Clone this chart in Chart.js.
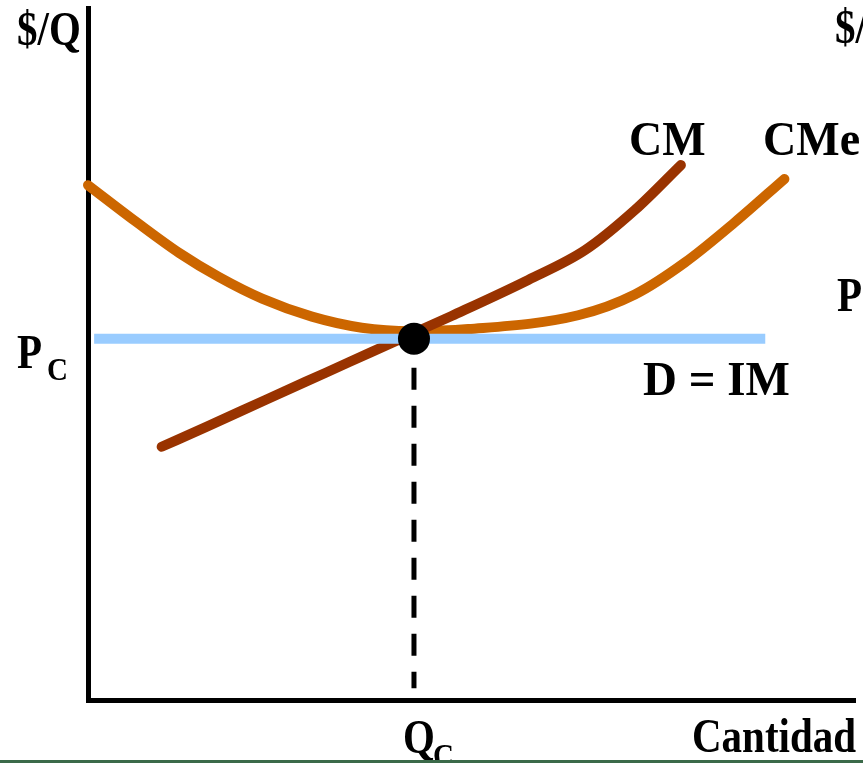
<!DOCTYPE html>
<html lang="es">
<head>
  <meta charset="utf-8" />
  <title>Competencia perfecta: CM, CMe y D = IM</title>
  <script src="https://cdn.jsdelivr.net/npm/chart.js"></script>
  <style>
    body {
      margin: 0;
      background: #ffffff;
    }
    #wrap {
      width: 863px;
      height: 763px;
    }
  </style>
</head>
<body>
  <div id="wrap">
    <canvas id="chart" width="863" height="763"></canvas>
  </div>

  <script>
    // Curva de costo marginal (CM)
    const cmQ = [9.6, 15.5, 23.2, 31.0, 37.0, 41.4, 47.4, 57.4, 64.8, 71.3, 77.3];
    const cmP = [36.6, 39.5, 43.4, 47.3, 50.3, 52.5, 55.5, 60.7, 65.0, 70.8, 77.3];

    // Curva de costo medio (CMe)
    const cmeQ = [0, 6.4, 11.9, 17.1, 22.7, 29.2, 35.7, 42.2, 49.6, 63.9, 71.3, 77.8, 84.3, 90.8];
    const cmeP = [74.4, 69.0, 64.6, 61.1, 58.0, 55.4, 53.8, 53.3, 53.6, 55.6, 58.6, 63.2, 69.0, 75.3];

    // Demanda = ingreso marginal (precio constante)
    const precioC = 52.2;
    const demandaQ = [0.8, 88.3];

    // Equilibrio
    const cantidadC = 42.5;
    const guiaP = [48, 1.7];

    const pts = (xs, ys) => xs.map((x, i) => ({ x: x, y: ys[i] }));

    const serif = "'Liberation Serif', 'Times New Roman', serif";

    // texto en negrita, algo estirado en vertical como en la lámina original
    function texto(ctx, txt, x, y, size, sy) {
      ctx.save();
      ctx.translate(x, y);
      ctx.scale(1, sy);
      ctx.font = 'bold ' + size + 'px ' + serif;
      ctx.fillStyle = '#000000';
      ctx.textBaseline = 'alphabetic';
      ctx.fillText(txt, 0, 0);
      ctx.restore();
    }

    const etiquetas = {
      id: 'etiquetas',
      afterDraw(chart) {
        const ctx = chart.ctx;
        texto(ctx, '$/Q', 17, 45, 41, 1.17);
        texto(ctx, '$/', 835, 43, 41, 1.17);
        texto(ctx, 'CM', 629, 155, 46, 1.05);
        texto(ctx, 'CMe', 763, 155, 46, 1.05);
        texto(ctx, 'P', 837, 311, 41, 1.17);
        texto(ctx, 'P', 17, 368, 41, 1.17);
        texto(ctx, 'C', 47, 380, 29, 1.1);
        texto(ctx, 'D = IM', 643, 395, 47, 1.03);
        texto(ctx, 'Q', 403, 753, 41, 1.17);
        texto(ctx, 'C', 433, 766, 29, 1.1);
        texto(ctx, 'Cantidad', 692, 752, 41, 1.17);

        // franja verde inferior de la lámina
        ctx.save();
        ctx.fillStyle = '#3b6a49';
        ctx.fillRect(0, 760, chart.width, 3);
        ctx.restore();
      }
    };

    const ctx = document.getElementById('chart').getContext('2d');

    new Chart(ctx, {
      type: 'line',
      data: {
        datasets: [
          {
            label: 'Equilibrio',
            data: [{ x: cantidadC, y: precioC }],
            showLine: false,
            pointRadius: 16,
            pointBackgroundColor: '#000000',
            pointBorderWidth: 0,
            clip: false
          },
          {
            label: 'Qc',
            data: pts([cantidadC, cantidadC], guiaP),
            borderColor: '#000000',
            borderWidth: 5,
            borderDash: [22, 16],
            borderCapStyle: 'butt',
            pointRadius: 0,
            clip: false
          },
          {
            label: 'D = IM',
            data: pts(demandaQ, [precioC, precioC]),
            borderColor: '#99ccff',
            borderWidth: 10,
            borderCapStyle: 'butt',
            pointRadius: 0,
            clip: false
          },
          {
            label: 'CM',
            data: pts(cmQ, cmP),
            borderColor: '#993300',
            borderWidth: 10,
            borderCapStyle: 'round',
            borderJoinStyle: 'round',
            cubicInterpolationMode: 'monotone',
            pointRadius: 0,
            clip: false
          },
          {
            label: 'CMe',
            data: pts(cmeQ, cmeP),
            borderColor: '#cc6600',
            borderWidth: 10,
            borderCapStyle: 'round',
            borderJoinStyle: 'round',
            cubicInterpolationMode: 'monotone',
            pointRadius: 0,
            clip: false
          }
        ]
      },
      options: {
        responsive: false,
        animation: false,
        layout: {
          autoPadding: false,
          padding: { left: 88, right: 8, top: 8, bottom: 63 }
        },
        plugins: {
          legend: { display: false },
          tooltip: { enabled: false },
          title: { display: false }
        },
        scales: {
          x: {
            type: 'linear',
            min: 0,
            max: 100,
            ticks: { display: false },
            grid: { display: false, drawTicks: false },
            border: { display: true, color: '#000000', width: 5 }
          },
          y: {
            type: 'linear',
            min: 0,
            max: 100,
            ticks: { display: false },
            grid: { display: false, drawTicks: false },
            border: { display: true, color: '#000000', width: 5 }
          }
        }
      },
      plugins: [etiquetas]
    });
  </script>
</body>
</html>
